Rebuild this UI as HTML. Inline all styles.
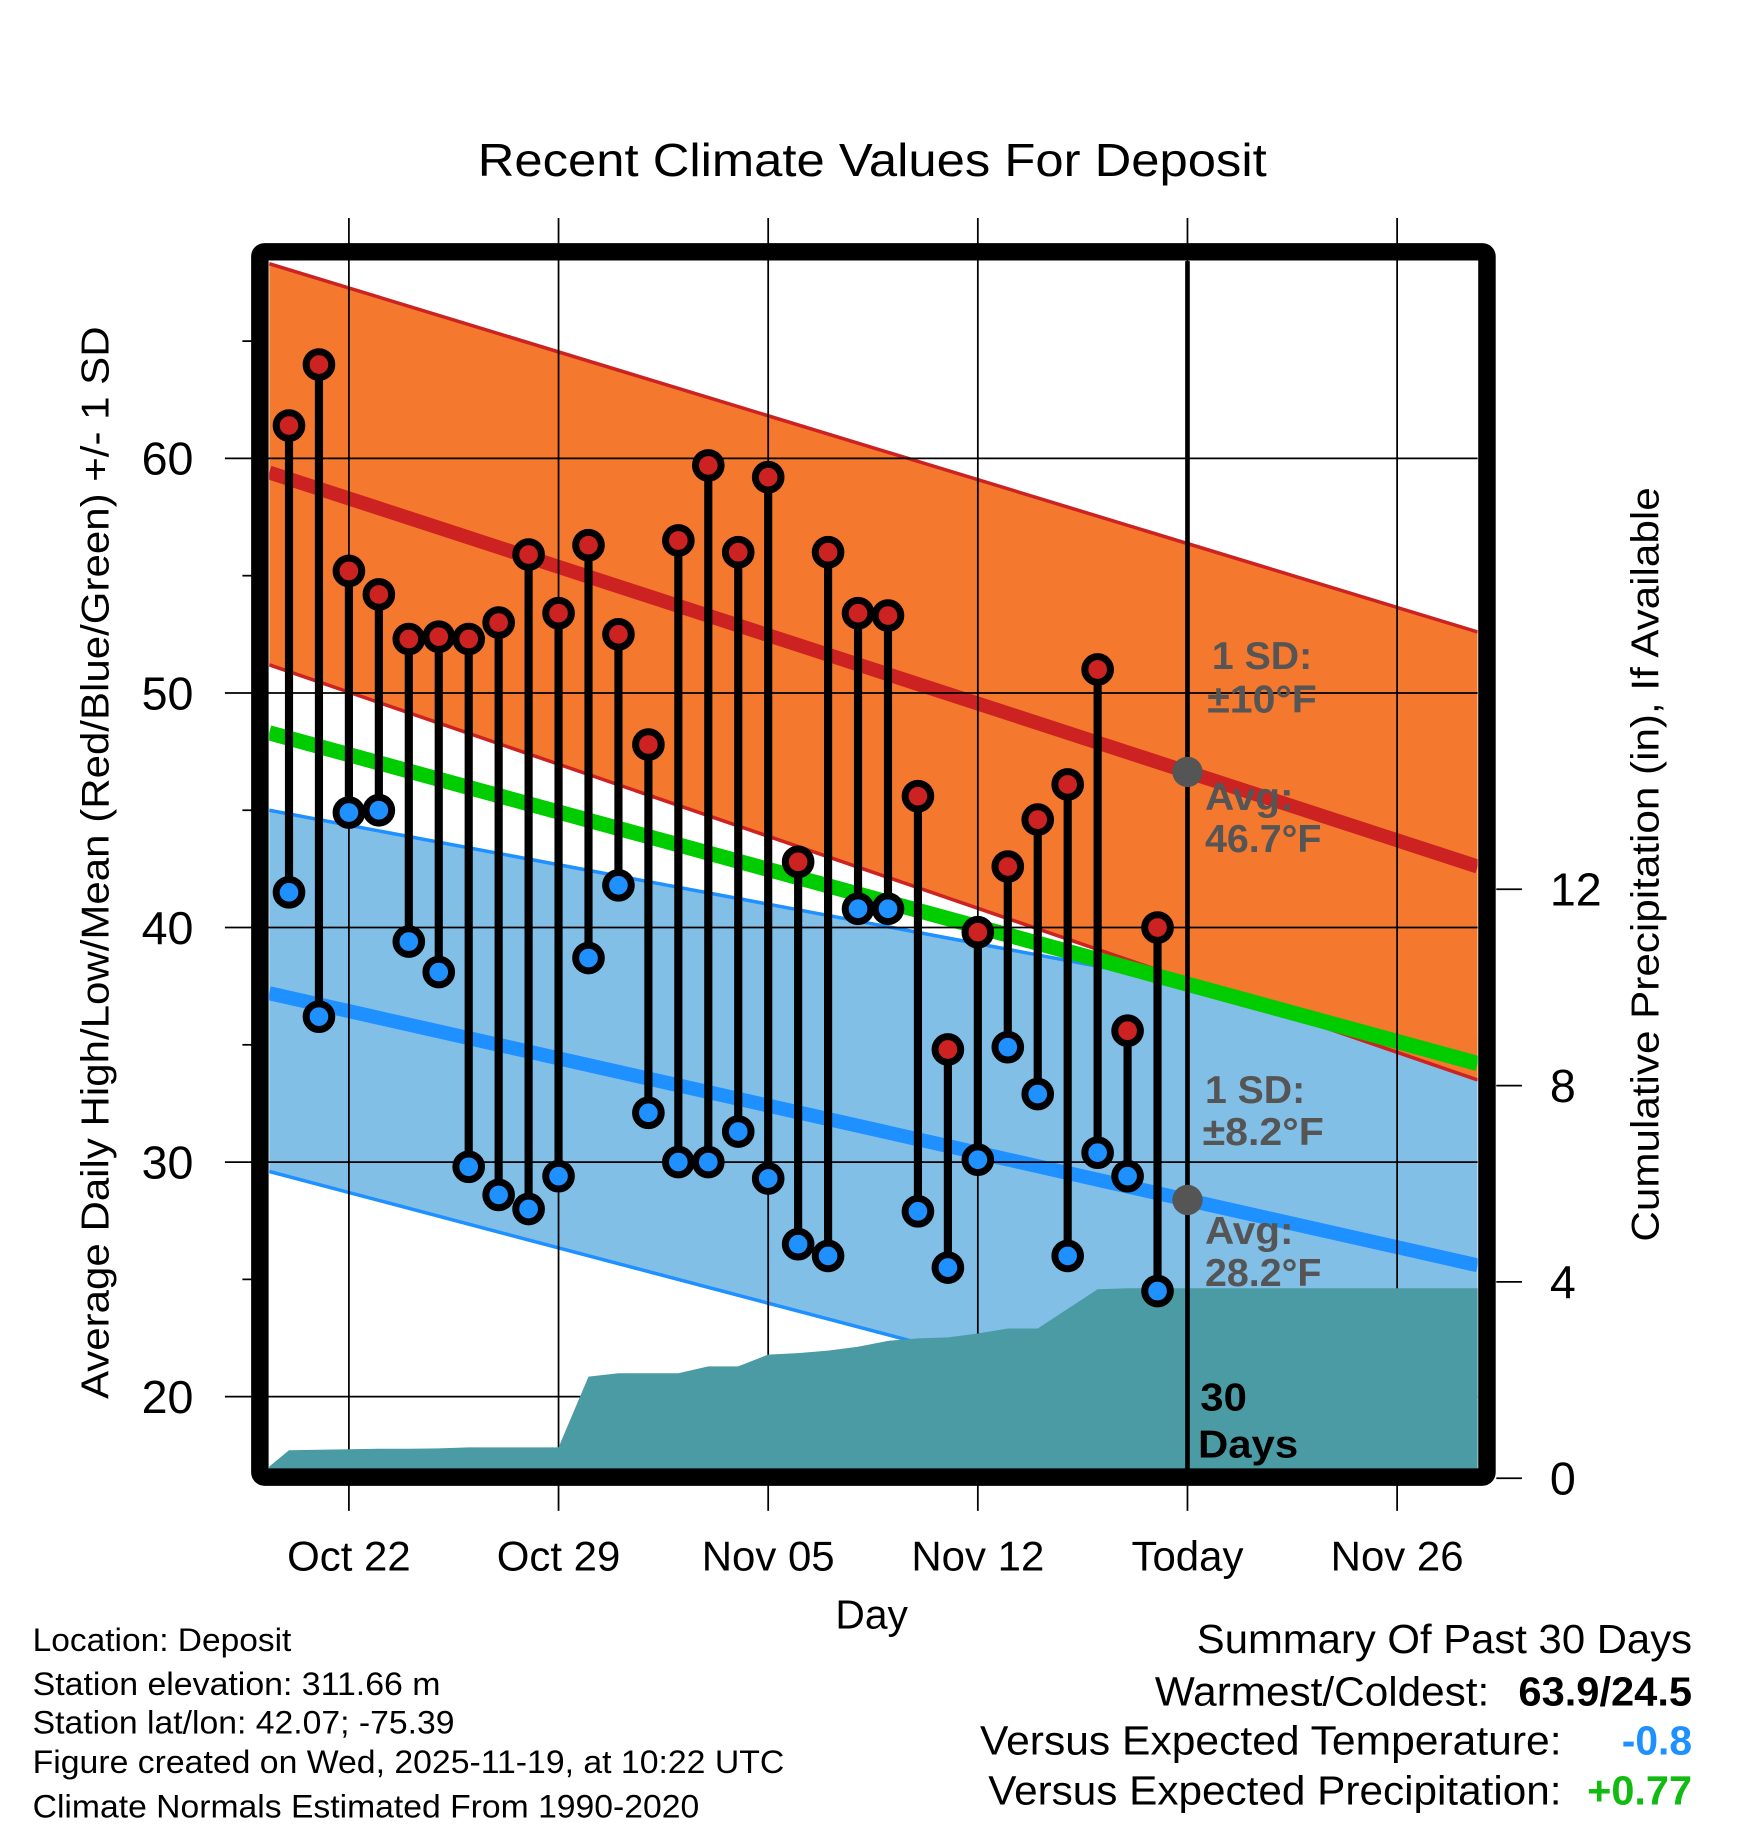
<!DOCTYPE html>
<html><head><meta charset="utf-8"><style>
html,body{margin:0;padding:0;background:#fff;}
svg{display:block;font-family:"Liberation Sans",Arial,sans-serif;}
</style></head><body>
<svg id="chart" width="1748" height="1828" viewBox="0 0 1500 1568" preserveAspectRatio="none" xmlns="http://www.w3.org/2000/svg">
<defs><clipPath id="plotclip"><rect x="231" y="224" width="1037" height="1036"/></clipPath></defs>
<rect x="0" y="0" width="1500" height="1568" fill="#fff"/>
<text x="410" y="151" font-size="40" textLength="677" lengthAdjust="spacingAndGlyphs">Recent Climate Values For Deposit</text>
<g id="bands" clip-path="url(#plotclip)"></g>
<g id="grid"></g>
<g id="precip"></g>
<g id="marks"></g>
<g id="frame"></g>
<g id="labels"></g>
<text transform="translate(93,1200) rotate(-90)" font-size="33" textLength="920" lengthAdjust="spacingAndGlyphs">Average Daily High/Low/Mean (Red/Blue/Green) +/- 1 SD</text>
<text transform="translate(1423,1065) rotate(-90)" font-size="33" textLength="647" lengthAdjust="spacingAndGlyphs">Cumulative Precipitation (in), If Available</text>
<text x="748" y="1397" font-size="35" text-anchor="middle">Day</text>
<g font-size="28">
<text x="28" y="1416" textLength="222" lengthAdjust="spacingAndGlyphs">Location: Deposit</text>
<text x="28" y="1454" textLength="350" lengthAdjust="spacingAndGlyphs">Station elevation: 311.66 m</text>
<text x="28" y="1487" textLength="362" lengthAdjust="spacingAndGlyphs">Station lat/lon: 42.07; -75.39</text>
<text x="28" y="1521" textLength="645" lengthAdjust="spacingAndGlyphs">Figure created on Wed, 2025-11-19, at 10:22 UTC</text>
<text x="28" y="1559" textLength="572" lengthAdjust="spacingAndGlyphs">Climate Normals Estimated From 1990-2020</text>
</g>
<g font-size="35">
<text x="1027" y="1418" textLength="425" lengthAdjust="spacingAndGlyphs">Summary Of Past 30 Days</text>
<text x="991" y="1463" textLength="287" lengthAdjust="spacingAndGlyphs">Warmest/Coldest:</text>
<text x="1303" y="1463" font-weight="bold" textLength="149" lengthAdjust="spacingAndGlyphs">63.9/24.5</text>
<text x="841" y="1505" textLength="499" lengthAdjust="spacingAndGlyphs">Versus Expected Temperature:</text>
<text x="1452" y="1505" text-anchor="end" font-weight="bold" fill="#1e90ff">-0.8</text>
<text x="848" y="1548" textLength="492" lengthAdjust="spacingAndGlyphs">Versus Expected Precipitation:</text>
<text x="1362" y="1548" font-weight="bold" fill="#11bb11" textLength="90" lengthAdjust="spacingAndGlyphs">+0.77</text>
</g>
</svg>
<script>
// ---- data ----
const days = ["Oct 20","Oct 21","Oct 22","Oct 23","Oct 24","Oct 25","Oct 26","Oct 27","Oct 28","Oct 29","Oct 30","Oct 31","Nov 01","Nov 02","Nov 03","Nov 04","Nov 05","Nov 06","Nov 07","Nov 08","Nov 09","Nov 10","Nov 11","Nov 12","Nov 13","Nov 14","Nov 15","Nov 16","Nov 17","Nov 18"];
const highs = [61.4,64.0,55.2,54.2,52.3,52.4,52.3,53.0,55.9,53.4,56.3,52.5,47.8,56.5,59.7,56.0,59.2,42.8,56.0,53.4,53.3,45.6,34.8,39.8,42.6,44.6,46.1,51.0,35.6,40.0];
const lows = [41.5,36.2,44.9,45.0,39.4,38.1,29.8,28.6,28.0,29.4,38.7,41.8,32.1,30.0,30.0,31.3,29.3,26.5,26.0,40.8,40.8,27.9,25.5,30.1,34.9,32.9,26.0,30.4,29.4,24.5];
const precipCum = [0.57,0.58,0.59,0.60,0.60,0.61,0.63,0.63,0.63,0.63,2.07,2.14,2.14,2.14,2.28,2.28,2.52,2.55,2.60,2.68,2.80,2.85,2.87,2.95,3.05,3.05,3.45,3.85,3.87,3.87];
// normals at left edge / right edge of plot
const normHigh = [59.4,42.6];
const normHighUpper = [68.3,52.6];
const normHighLower = [51.2,33.5];
const normLow = [37.2,25.6];
const normLowUpper = [45.0,35.3];
const normLowLower = [29.6,16.0];
const normMean = [48.3,34.2];
const yTicks = [20,30,40,50,60];
const y2Ticks = [0,4,8,12];
const xTickLabels = ["Oct 22","Oct 29","Nov 05","Nov 12","Today","Nov 26"];
const xTickDays = [2,9,16,23,30,37];

// ---- scales (display coords) ----
const L=231,R=1268,T=224,B=1260;
const dayX0=248, dayW=25.7;
const X = d => dayX0 + d*dayW;
const Y = v => 1198 - (v-20)*20.12;
const Y2 = p => 1268 - p*42.1;
const NS="http://www.w3.org/2000/svg";
function mk(tag, parent, attrs){const e=document.createElementNS(NS,tag);for(const k in attrs)e.setAttribute(k,attrs[k]);parent.appendChild(e);return e;}
const g=id=>document.getElementById(id);

// bands
const bands=g('bands');
function band(up, lo, fill, edge, name){
  const p=mk('polygon',bands,{points:`${L},${Y(up[0])} ${R},${Y(up[1])} ${R},${Y(lo[1])} ${L},${Y(lo[0])}`,fill:fill});
  
  
  [up,lo].forEach(c=>{const l=mk('line',bands,{x1:L,y1:Y(c[0]),x2:R,y2:Y(c[1]),stroke:edge,'stroke-width':3});
    
    });
}
band(normLowUpper,normLowLower,'#82bfe7','#1e90ff','low-sd-band');
band(normHighUpper,normHighLower,'#f4782d','#cc2222','high-sd-band');
function nline(c,col,w,name){const l=mk('line',bands,{x1:L,y1:Y(c[0]),x2:R,y2:Y(c[1]),stroke:col,'stroke-width':w});
  
  }
nline(normHigh,'#cc2222',12,'avg-high-line');
nline(normLow,'#1e90ff',12,'avg-low-line');
nline(normMean,'#00cc00',13,'avg-mean-line');

// grid
const grid=g('grid');
yTicks.forEach(v=>{
  const l=mk('line',grid,{x1:193,y1:Y(v),x2:R,y2:Y(v),stroke:'#000','stroke-width':1.5});
  
  
  const t=mk('text',g('labels'),{x:166,y:Y(v)+14,'font-size':40,'text-anchor':'end'});t.textContent=v;
  
  
});
[25,35,45,55,65].forEach(v=>{const l=mk('line',grid,{x1:208,y1:Y(v),x2:218,y2:Y(v),stroke:'#000','stroke-width':1.5});
  
  });
xTickDays.forEach((d,i)=>{
  const l=mk('line',grid,{x1:X(d),y1:187,x2:X(d),y2:1296,stroke:'#000','stroke-width':1.5});
  
  
  const t=mk('text',g('labels'),{x:X(d),y:1347,'font-size':36,'text-anchor':'middle'});t.textContent=xTickLabels[i];
  
  
});
y2Ticks.forEach(p=>{
  const l=mk('line',g('labels'),{x1:1284,y1:Y2(p),x2:1306,y2:Y2(p),stroke:'#000','stroke-width':1.5});
  
  
  const t=mk('text',g('labels'),{x:1330,y:Y2(p)+14,'font-size':40});t.textContent=p;
  
  
});

// precip area
let pts=`${L},${B} ${L},${B-2} `;
precipCum.forEach((p,i)=>{pts+=`${X(i)},${Math.min(B,Y2(p))} `;});
pts+=`${R},${Y2(precipCum[precipCum.length-1])} ${R},${B}`;
const pa=mk('polygon',g('precip'),{points:pts,fill:'#4a9ba3'});



// today line + avg markers + annotations
const marks=g('marks');
const tx=X(30);
const tl=mk('line',marks,{x1:tx,y1:224,x2:tx,y2:B,stroke:'#000','stroke-width':4});


const frac=(tx-L)/(R-L);
[normHigh,normLow].forEach((c,i)=>{const cc=mk('circle',marks,{cx:tx,cy:Y(c[0]+(c[1]-c[0])*frac),r:13,fill:'#555'});
  
  });

// daily stems and points
days.forEach((d,i)=>{
  const s=mk('line',marks,{x1:X(i),y1:Y(highs[i]),x2:X(i),y2:Y(lows[i]),stroke:'#000','stroke-width':7});
  
  
  const h=mk('circle',marks,{cx:X(i),cy:Y(highs[i]),r:11,fill:'#cc2222',stroke:'#000','stroke-width':6});
  
  
  const lo=mk('circle',marks,{cx:X(i),cy:Y(lows[i]),r:11,fill:'#1e90ff',stroke:'#000','stroke-width':6});
  
  
});

// annotations
const ann=[["1 SD:",1040,574,'#555',86],["±10°F",1036,611,'#555',94],["Avg:",1034,695,'#555',76],["46.7°F",1034,731,'#555',100],
 ["1 SD:",1034,946,'#555',86],["±8.2°F",1032,982,'#555',104],["Avg:",1034,1067,'#555',76],["28.2°F",1034,1103,'#555',100],
 ["30",1030,1210,'#000',40],["Days",1028,1250,'#000',86]];
ann.forEach(a=>{const t=mk('text',marks,{x:a[1],y:a[2],'font-size':33,'font-weight':'bold',fill:a[3],textLength:a[4],lengthAdjust:'spacingAndGlyphs'});t.textContent=a[0];
  
  });

// frame
const fr=mk('rect',g('frame'),{x:223,y:216,width:1053,height:1051,fill:'none',stroke:'#000','stroke-width':15,rx:4});


</script>
</body></html>
